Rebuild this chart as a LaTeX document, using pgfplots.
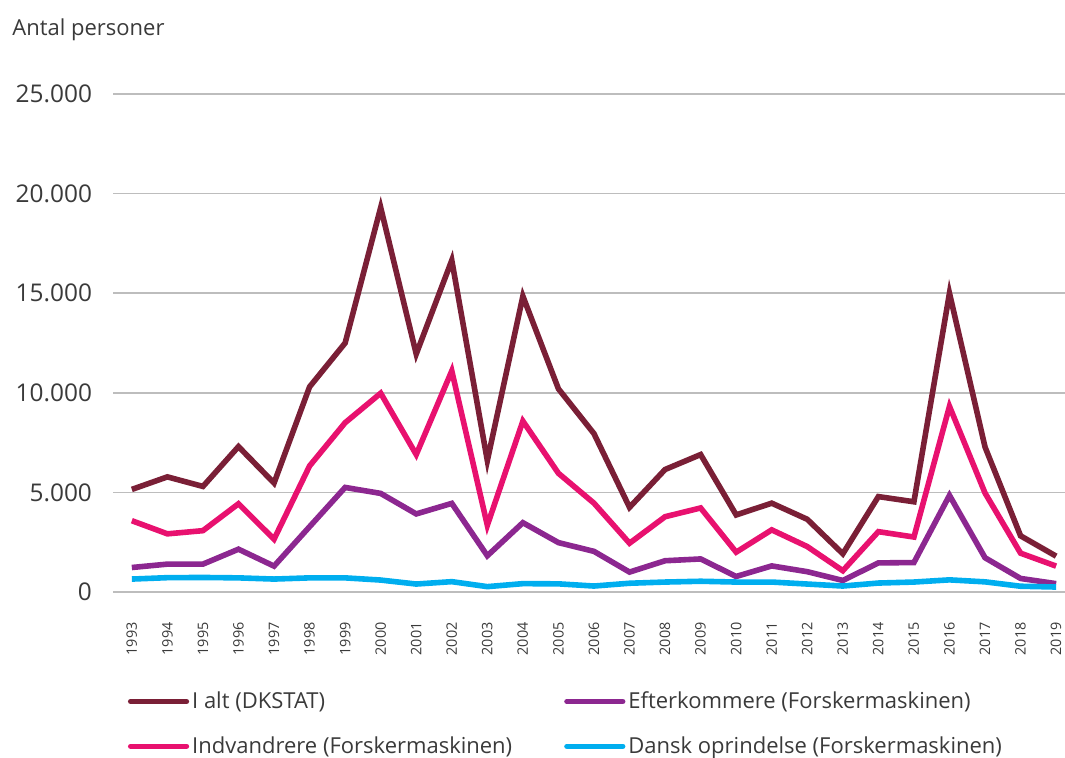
\documentclass[border=0pt]{standalone}
\usepackage{fontspec}
\setmainfont{Open Sans}
\usepackage{pgfplots}
\pgfplotsset{compat=1.18}
\definecolor{cAlt}{HTML}{7A1F36}
\definecolor{cEft}{HTML}{8C2790}
\definecolor{cInd}{HTML}{E8116F}
\definecolor{cDan}{HTML}{00AEEF}
\definecolor{cTxt}{HTML}{3A3A3A}
\definecolor{cGrid}{HTML}{BDBDBD}

\pgfplotstableread{
year alt  ind   eft  dan
1993 5150 3580  1230 650
1994 5780 2920  1400 720
1995 5300 3080  1400 730
1996 7300 4430  2150 710
1997 5470 2650  1300 650
1998 10300 6330 3280 710
1999 12500 8500 5250 710
2000 19300 9980 4950 600
2001 11950 6900 3920 400
2002 16650 11100 4450 520
2003 6600 3350  1820 270
2004 14850 8580 3480 420
2005 10200 5960 2480 410
2006 7950 4460  2040 300
2007 4250 2450  1000 440
2008 6150 3780  1570 500
2009 6900 4220  1660 540
2010 3870 2000  780  500
2011 4460 3120  1310 500
2012 3650 2280  1020 400
2013 1920 1070  580  300
2014 4790 3030  1460 450
2015 4530 2760  1480 500
2016 15000 9320 4850 610
2017 7280 4970  1720 510
2018 2820 1950  680  290
2019 1800 1300  420  250
}\data

\begin{document}
\begin{tikzpicture}
\path[use as bounding box] (-56.5pt,-82.5pt) rectangle (476pt,296pt);
\begin{axis}[
    at={(0pt,0pt)}, anchor=south west,
    scale only axis,
    width=476pt, height=249pt,
    xmin=1992.47, xmax=2019.25,
    ymin=0, ymax=25000,
    xtick={1993,...,2019},
    ytick={0,5000,...,25000},
    major tick length=0pt,
    axis line style={draw=none},
    ymajorgrids,
    grid style={draw=cGrid, line width=0.8pt},
    scaled y ticks=false,
    /pgf/number format/assume math mode=true,
    yticklabel style={font=\fontsize{12.2}{14}\selectfont, text=cTxt, anchor=east, xshift=-7pt,
        /pgf/number format/1000 sep={.}},
    xticklabel style={font=\fontsize{7.2}{8}\selectfont, text=cTxt, rotate=90, anchor=east,
        inner sep=1pt, xshift=-14pt,
        /pgf/number format/1000 sep={}},
    legend columns=2,
    legend cell align=left,
    legend style={at={(0.009,-0.183)}, anchor=north west, draw=none, fill=none,
        font=\fontsize{11}{13}\selectfont, text=cTxt,
        column sep=0pt, row sep=8.5pt,
        /tikz/every even column/.append style={column sep=24pt},
        /tikz/every odd column/.append style={column sep=-0.5pt}},
    legend image code/.code={\draw[line width=2.6pt, line cap=round] (0pt,0pt) -- (28pt,0pt);},
    every axis plot/.append style={line width=2.8pt, line join=miter, mark=none},
]
\addplot[cAlt] table[x=year, y=alt] {\data};
\addlegendentry{I alt (DKSTAT)}
\addplot[cEft] table[x=year, y=eft] {\data};
\addlegendentry{Efterkommere (Forskermaskinen)}
\addplot[cInd] table[x=year, y=ind] {\data};
\addlegendentry{Indvandrere (Forskermaskinen)}
\addplot[cDan] table[x=year, y=dan] {\data};
\addlegendentry{Dansk oprindelse (Forskermaskinen)}
\end{axis}
\node[anchor=base west, font=\fontsize{11}{13}\selectfont, text=cTxt, inner sep=0pt] at (-50.5pt,278.5pt) {Antal personer};
\end{tikzpicture}
\end{document}
